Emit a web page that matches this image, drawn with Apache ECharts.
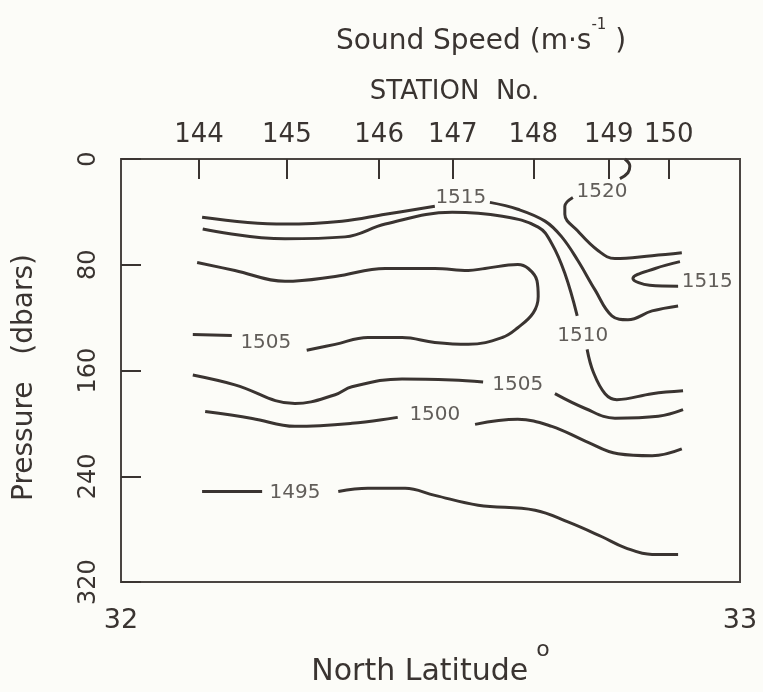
<!DOCTYPE html>
<html>
<head>
<meta charset="utf-8">
<script src="https://cdn.jsdelivr.net/npm/echarts@6/dist/echarts.min.js"></script>
<style>
html,body{margin:0;padding:0;background:#fcfcf8;}
#chart{width:763px;height:692px;}
</style>
</head>
<body>
<div id="chart"></div>
<script>
// ---- axis data ----
const stationNo = ['144', '145', '146', '147', '148', '149', '150'];
const stationLat = [32.126, 32.268, 32.417, 32.536, 32.666, 32.788, 32.885];
const latTicks = [32, 33];
const pressureTicks = [0, 80, 160, 240, 320];

// ---- contour lines: [latitude, pressure] ----
const c1515_a = [[32.131,44.0],[32.265,49.2],[32.357,47.0],[32.427,41.8],[32.507,35.8]];
const c1515_b = [[32.596,32.8],[32.641,38.0],[32.685,47.0],[32.712,58.9],[32.738,76.8],[32.766,99.2],[32.793,118.6],[32.819,121.6],[32.858,114.9],[32.900,111.1]];
const c1510_a = [[32.132,53.0],[32.265,60.4],[32.362,58.9],[32.427,49.2],[32.535,40.3],[32.616,43.3],[32.674,51.5],[32.696,64.1],[32.717,86.5],[32.737,118.6]];
const c1510_b = [[32.753,144.0],[32.763,161.1],[32.782,177.5],[32.801,182.0],[32.858,177.5],[32.908,175.3]];
const c1505u_a = [[32.116,132.8],[32.179,133.5]];
const c1505u_b = [[32.300,144.7],[32.346,140.2],[32.399,135.0],[32.454,135.0],[32.507,138.7],[32.561,140.2],[32.616,135.0],[32.641,127.6],[32.666,116.4],[32.674,104.0],[32.672,92.0],[32.658,82.8],[32.641,79.8],[32.588,82.8],[32.561,84.3],[32.507,82.8],[32.427,82.8],[32.346,88.8],[32.265,92.5],[32.184,84.3],[32.123,78.3]];
const c1505l_a = [[32.116,163.4],[32.184,170.8],[32.281,185.0],[32.346,178.3],[32.373,172.3],[32.454,166.3],[32.535,167.1],[32.585,168.6]];
const c1505l_b = [[32.701,177.5],[32.750,188.7],[32.798,196.0],[32.868,194.5],[32.908,189.5]];
const c1500_a = [[32.136,191.0],[32.212,196.2],[32.281,202.2],[32.373,199.9],[32.447,195.4]];
const c1500_b = [[32.572,200.7],[32.641,196.9],[32.696,202.2],[32.750,213.3],[32.803,223.0],[32.858,224.5],[32.906,219.3]];
const c1495_a = [[32.131,251.4],[32.228,251.4]];
const c1495_b = [[32.351,251.4],[32.399,249.1],[32.459,249.1],[32.507,254.4],[32.577,261.8],[32.669,265.6],[32.722,274.5],[32.777,285.7],[32.814,293.9],[32.858,299.1],[32.900,299.1]];
const c1520_main = [[32.730,29.1],[32.717,35.8],[32.717,41.8],[32.738,54.5],[32.771,69.4],[32.798,75.3],[32.858,73.1],[32.906,70.9]];
const c1515_loop = [[32.903,77.6],[32.863,82.8],[32.827,90.3],[32.854,95.5],[32.900,96.2]];
const c1520_top = [[32.814,0.0],[32.822,5.2],[32.819,10.4],[32.806,14.9]];

// ---- contour labels: [latitude, pressure, text] ----
const contourLabels = [
  [32.549, 29.1, '1515'],
  [32.777, 24.6, '1520'],
  [32.947, 93.2, '1515'],
  [32.746, 133.5, '1510'],
  [32.234, 138.7, '1505'],
  [32.641, 170.8, '1505'],
  [32.507, 193.2, '1500'],
  [32.281, 252.1, '1495']
];

const contours = [c1515_a, c1515_b, c1510_a, c1510_b, c1505u_a, c1505u_b, c1505l_a, c1505l_b,
  c1500_a, c1500_b, c1495_a, c1495_b, c1520_main, c1515_loop, c1520_top];

const INK = '#3a3431';
const FONT = 'DejaVu Sans';

const chart = echarts.init(document.getElementById('chart'));
const lineSeries = contours.map(function (c) {
  return {
    type: 'line', data: c, smooth: 0.4, showSymbol: false, symbol: 'none',
    lineStyle: { color: INK, width: 3 }, silent: true, animation: false,
    xAxisIndex: 0, yAxisIndex: 0, z: 3
  };
});

chart.setOption({
  backgroundColor: '#fcfcf8',
  animation: false,
  title: {
    text: '{m|Sound Speed (m·s}{s|-1}{m| )}',
    left: 331, top: 13,
    textStyle: {
      fontWeight: 'normal',
      rich: {
        m: { fontFamily: FONT, fontSize: 28, fontWeight: 'normal', color: INK, padding: [10, 0, 0, 0], verticalAlign: 'bottom' },
        s: { fontFamily: FONT, fontSize: 15, fontWeight: 'normal', color: INK, verticalAlign: 'top' }
      }
    }
  },
  grid: {
    left: 121, right: 23, top: 159, bottom: 104,
    show: true, borderColor: '#4a4542', borderWidth: 2, backgroundColor: 'transparent'
  },
  xAxis: [
    {
      type: 'value', position: 'bottom', min: 32, max: 33, interval: 1,
      axisLine: { show: false }, axisTick: { show: false }, splitLine: { show: false },
      axisLabel: {
        customValues: latTicks,
        fontFamily: FONT, fontSize: 27, color: INK, margin: 25
      },
      name: '{m|North Latitude}{s|o}',
      nameLocation: 'middle', nameGap: 39,
      nameTextStyle: {
        rich: {
          m: { fontFamily: FONT, fontSize: 30, color: INK, padding: [18, 0, 0, 0], verticalAlign: 'bottom' },
          s: { fontFamily: FONT, fontSize: 22, color: INK, padding: [0, 0, 0, 8], verticalAlign: 'top' }
        }
      }
    },
    {
      type: 'value', position: 'top', min: 32, max: 33,
      axisLine: { show: false }, splitLine: { show: false },
      axisTick: { show: true, inside: true, length: 20, customValues: stationLat,
        lineStyle: { color: INK, width: 2 } },
      axisLabel: {
        customValues: stationLat,
        fontFamily: FONT, fontSize: 26, color: INK, margin: 11,
        formatter: function (v) {
          let best = 0, d = 1e9;
          stationLat.forEach(function (s, i) { if (Math.abs(s - v) < d) { d = Math.abs(s - v); best = i; } });
          return stationNo[best];
        }
      },
      name: 'STATION  No.',
      nameLocation: 'middle', nameGap: 54,
      nameTextStyle: { fontFamily: FONT, fontSize: 26, color: INK, padding: [0, 0, 0, 48] }
    }
  ],
  yAxis: [
    {
      type: 'value', inverse: true, min: 0, max: 320, interval: 80,
      axisLine: { show: false }, splitLine: { show: false },
      axisTick: { show: true, inside: true, length: 20, lineStyle: { color: INK, width: 2 } },
      axisLabel: {
        customValues: pressureTicks,
        rotate: 90, fontFamily: FONT, fontSize: 24, color: INK, margin: 20
      },
      name: 'Pressure   (dbars)',
      nameLocation: 'middle', nameGap: 82,
      nameTextStyle: { fontFamily: FONT, fontSize: 28, color: INK, padding: [0, 14, 0, 0] }
    }
  ],
  series: lineSeries.concat([
    {
      type: 'scatter', data: contourLabels, symbolSize: 0, silent: true, z: 4,
      xAxisIndex: 0, yAxisIndex: 0,
      label: {
        show: true, position: 'inside',
        formatter: function (p) { return p.data[2]; },
        fontFamily: FONT, fontSize: 20, color: INK
      }
    }
  ])
});
</script>
</body>
</html>
